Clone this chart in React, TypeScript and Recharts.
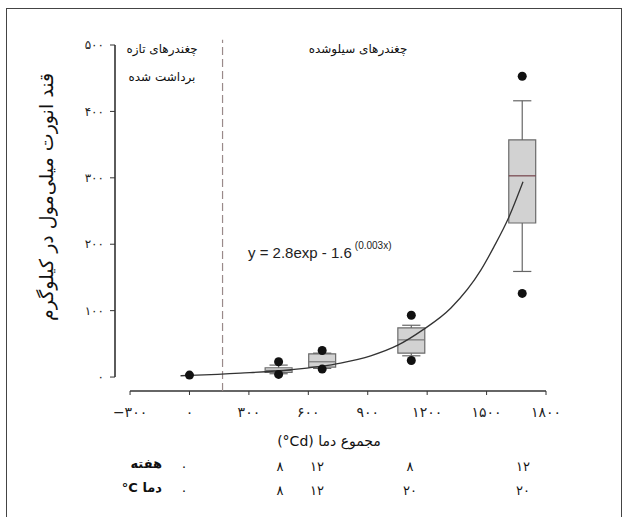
import React from "react";
import {
  ComposedChart,
  Line,
  Scatter,
  XAxis,
  YAxis,
  ReferenceArea,
  ReferenceLine,
} from "recharts";

// axis ticks (°Cd and mmol/kg) and their Persian labels
const xTicks = [-300, 0, 300, 600, 900, 1200, 1500, 1800];
const xTickLabels = ["−۳۰۰", "۰", "۳۰۰", "۶۰۰", "۹۰۰", "۱۲۰۰", "۱۵۰۰", "۱۸۰۰"];
const yTicks = [0, 100, 200, 300, 400, 500];
const yTickLabels = ["۰", "۱۰۰", "۲۰۰", "۳۰۰", "۴۰۰", "۵۰۰"];

// box plots of the stored beets
const boxX = [450, 670, 1120, 1680];
const boxQ1 = [7, 15, 36, 232];
const boxMedian = [10, 23, 56, 303];
const boxQ3 = [14, 35, 74, 357];
const whiskerLow = [5, 13, 32, 159];
const whiskerHigh = [18, 36, 78, 416];
const outlierHigh = [23, 40, 93, 453];
const outlierLow = [4, 12, 25, 126];

// fresh harvested beet
const freshPoint = [{ x: 0, y: 3 }];

// fitted curve
const curveX = [-45, 0, 258, 511, 763, 915, 1052, 1178, 1320, 1471, 1537, 1613, 1684];
const curveY = [2, 2.5, 6, 11, 21, 32, 48, 71, 104, 161, 196, 241, 294];

// bottom table
const weekRow = ["۰", "۸", "۱۲", "۸", "۱۲"];
const tempRow = ["۰", "۸", "۱۲", "۲۰", "۲۰"];
const tableX = [184, 280, 317, 410, 523];

const X_MIN = -376;
const Y_MIN = -21;
const BOX_HALF = 68;
const CAP_HALF = 46;
const DIVIDER_X = 167;

const curveData = curveX.map((x, i) => ({ x, y: curveY[i] }));
const outlierData = boxX.flatMap((x, i) => [
  { x, y: outlierHigh[i] },
  { x, y: outlierLow[i] },
]);

const persian = '"DejaVu Sans", sans-serif';

const dot = (p: any) => <circle cx={p.cx} cy={p.cy} r={4.5} fill="#111" />;

function boxElements() {
  const els: React.ReactNode[] = [];
  boxX.forEach((x, i) => {
    els.push(
      <ReferenceLine
        key={`wl${i}`}
        segment={[{ x, y: whiskerLow[i] }, { x, y: boxQ1[i] }]}
        stroke="#666"
        strokeWidth={1.2}
        ifOverflow="visible"
      />,
      <ReferenceLine
        key={`wh${i}`}
        segment={[{ x, y: boxQ3[i] }, { x, y: whiskerHigh[i] }]}
        stroke="#666"
        strokeWidth={1.2}
        ifOverflow="visible"
      />,
      <ReferenceLine
        key={`cl${i}`}
        segment={[{ x: x - CAP_HALF, y: whiskerLow[i] }, { x: x + CAP_HALF, y: whiskerLow[i] }]}
        stroke="#666"
        strokeWidth={1.2}
        ifOverflow="visible"
      />,
      <ReferenceLine
        key={`ch${i}`}
        segment={[{ x: x - CAP_HALF, y: whiskerHigh[i] }, { x: x + CAP_HALF, y: whiskerHigh[i] }]}
        stroke="#666"
        strokeWidth={1.2}
        ifOverflow="visible"
      />,
      <ReferenceArea
        key={`b${i}`}
        x1={x - BOX_HALF}
        x2={x + BOX_HALF}
        y1={boxQ1[i]}
        y2={boxQ3[i]}
        fill="#d2d2d2"
        fillOpacity={1}
        stroke="#6a6a6a"
        strokeWidth={1.2}
        ifOverflow="visible"
      />,
      <ReferenceLine
        key={`m${i}`}
        segment={[{ x: x - BOX_HALF, y: boxMedian[i] }, { x: x + BOX_HALF, y: boxMedian[i] }]}
        stroke={i === 3 ? "#74424a" : "#777"}
        strokeWidth={1.2}
        ifOverflow="visible"
      />
    );
  });
  return els;
}

const abs = (x: number, y: number): React.CSSProperties => ({
  position: "absolute",
  left: x,
  top: y,
  transform: "translate(-50%, -50%)",
  whiteSpace: "nowrap",
});

export default function App() {
  return (
    <div
      style={{
        position: "absolute",
        left: 0,
        top: 0,
        width: 628,
        height: 517,
        background: "#fff",
        overflow: "hidden",
      }}
    >
      <div
        style={{
          position: "absolute",
          left: 6,
          top: 8,
          width: 614,
          height: 530,
          border: "1.5px solid #444",
        }}
      />
      <ComposedChart
        width={628}
        height={517}
        margin={{ top: 45, right: 82, left: 75, bottom: 96 }}
        style={{ position: "absolute", left: 0, top: 0 }}
      >
        <XAxis
          type="number"
          dataKey="x"
          domain={[X_MIN, 1800]}
          ticks={xTicks}
          tickFormatter={(v) => xTickLabels[xTicks.indexOf(v)] ?? ""}
          axisLine={false}
          tickLine={{ stroke: "#333" }}
          tickSize={4}
          tickMargin={12}
          tick={{ fontSize: 14, fill: "#222", fontFamily: persian, letterSpacing: 5 }}
          height={30}
          allowDataOverflow
        />
        <YAxis
          type="number"
          dataKey="y"
          domain={[Y_MIN, 500]}
          ticks={yTicks}
          tickFormatter={(v) => yTickLabels[yTicks.indexOf(v)] ?? ""}
          axisLine={false}
          tickLine={{ stroke: "#333" }}
          tickSize={5}
          tickMargin={6}
          tick={{ fontSize: 12, fill: "#222", fontFamily: persian, letterSpacing: 4 }}
          width={40}
          allowDataOverflow
        />
        <ReferenceLine
          segment={[{ x: -300, y: Y_MIN }, { x: 1800, y: Y_MIN }]}
          stroke="#333"
          strokeWidth={1.6}
          ifOverflow="visible"
        />
        <ReferenceLine
          segment={[{ x: X_MIN, y: 0 }, { x: X_MIN, y: 500 }]}
          stroke="#333"
          strokeWidth={1.6}
          ifOverflow="visible"
        />
        <ReferenceLine
          segment={[{ x: DIVIDER_X, y: Y_MIN }, { x: DIVIDER_X, y: 508 }]}
          stroke="#9a8a8a"
          strokeWidth={1.2}
          strokeDasharray="8 4"
          ifOverflow="visible"
        />
        {boxElements()}
        <Line
          data={curveData}
          dataKey="y"
          type="monotone"
          stroke="#333"
          strokeWidth={1.3}
          dot={false}
          isAnimationActive={false}
        />
        <Scatter data={outlierData} dataKey="y" shape={dot} isAnimationActive={false} />
        <Scatter data={freshPoint} dataKey="y" shape={dot} isAnimationActive={false} />
      </ComposedChart>

      <div
        style={{
          ...abs(46, 197),
          transform: "translate(-50%, -50%) rotate(-90deg)",
          fontFamily: persian,
          fontSize: 19,
          direction: "rtl",
          color: "#111",
        }}
      >
        قند انورت میلی‌مول در کیلوگرم
      </div>
      <div style={{ ...abs(162, 49), fontFamily: persian, fontSize: 12, direction: "rtl", color: "#111" }}>
        چغندرهای تازه
      </div>
      <div style={{ ...abs(162, 77), fontFamily: persian, fontSize: 12, direction: "rtl", color: "#111" }}>
        برداشت شده
      </div>
      <div style={{ ...abs(358, 49), fontFamily: persian, fontSize: 12, direction: "rtl", color: "#111" }}>
        چغندرهای سیلوشده
      </div>
      <div
        style={{
          position: "absolute",
          left: 248,
          top: 244,
          fontFamily: '"Liberation Sans", Arial, sans-serif',
          fontSize: 15,
          color: "#222",
          whiteSpace: "nowrap",
        }}
      >
        y = 2.8exp - 1.6
        <span style={{ fontSize: 10, position: "relative", top: -9, marginLeft: 3 }}>(0.003x)</span>
      </div>
      <div style={{ ...abs(329, 441), fontFamily: persian, fontSize: 14, direction: "rtl", color: "#111" }}>
        مجموع دما <span dir="ltr" style={{ unicodeBidi: "isolate" }}>(°Cd)</span>
      </div>

      <div
        style={{
          position: "absolute",
          right: 628 - 162,
          top: 456,
          fontFamily: persian,
          fontSize: 13,
          fontWeight: 600,
          direction: "rtl",
          color: "#111",
        }}
      >
        هفته
      </div>
      <div
        style={{
          position: "absolute",
          right: 628 - 162,
          top: 480,
          fontFamily: persian,
          fontSize: 13,
          fontWeight: 600,
          direction: "rtl",
          color: "#111",
        }}
      >
        دما <span dir="ltr" style={{ unicodeBidi: "isolate" }}>°C</span>
      </div>
      {weekRow.map((t, i) => (
        <div key={`w${i}`} style={{ ...abs(tableX[i], 466), fontFamily: persian, fontSize: 13, color: "#111" }}>
          {t}
        </div>
      ))}
      {tempRow.map((t, i) => (
        <div key={`t${i}`} style={{ ...abs(tableX[i], 490), fontFamily: persian, fontSize: 13, color: "#111" }}>
          {t}
        </div>
      ))}
    </div>
  );
}
